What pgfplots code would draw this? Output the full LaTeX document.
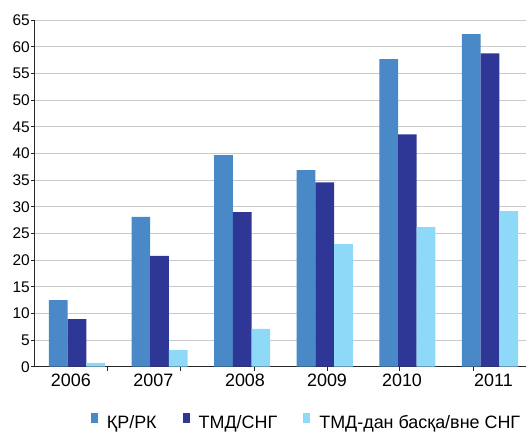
\documentclass[border=0pt]{standalone}
\usepackage{fontspec}
\setmainfont{Liberation Sans}
\usepackage{pgfplots}
\pgfplotsset{compat=1.18}

\definecolor{rk}{HTML}{4A89C8}
\definecolor{sng}{HTML}{2E3796}
\definecolor{vne}{HTML}{8ED8F8}
\definecolor{gridgray}{HTML}{CACACA}

\pgfplotstableread{
x   rk    sng   vne
0   12.5  8.95  0.7
1   28.1  20.8  3.1
2   39.7  29.0  7.1
3   36.9  34.6  23.0
4   57.7  43.6  26.2
5   62.4  58.8  29.2
}\data

\begin{document}
\begin{tikzpicture}
\begin{axis}[
  at={(0,0)}, anchor=south west,
  scale only axis,
  width=491bp, height=346.4bp,
  xmin=-0.508, xmax=5.436,
  ymin=0, ymax=65,
  ytick={0,5,...,65},
  xtick={0.375,1.259,2.147,3.034,3.910,4.797},
  xticklabels={},
  extra x ticks={-0.074,0.924,2.034,3.027,3.935,5.042},
  extra x tick labels={2006,2007,2008,2009,2010,2011},
  extra x tick style={major tick length=0pt, grid=none,
    xticklabel style={yshift=-6bp}},
  axis x line*=bottom,
  axis y line*=left,
  axis line style={black!85, line width=1bp},
  tick style={black!85, line width=1bp},
  tick align=outside,
  major tick length=4bp,
  ymajorgrids,
  grid style={gridgray, line width=1bp},
  /pgf/number format/assume math mode=true,
  yticklabel style={font=\fontsize{15.5}{17}\selectfont, inner sep=1bp},
  xticklabel style={font=\fontsize{18}{20}\selectfont, inner sep=1bp},
  ybar, bar width=0.2264,
  legend columns=-1,
  legend style={draw=none, fill=none, inner sep=0pt,
    at={(0.1134,-0.158)}, anchor=west,
    font=\fontsize{18}{20}\selectfont,
    nodes={inner sep=0pt},
    /tikz/every odd column/.append style={column sep=9bp},
    /tikz/every even column/.append style={column sep=26bp}},
  legend image code/.code={\fill[#1] (0bp,-1bp) rectangle (7bp,9bp);},
]
\addplot[draw=none, fill=rk, bar shift=-0.2264] table[x=x, y=rk] {\data};
\addplot[draw=none, fill=sng, bar shift=0] table[x=x, y=sng] {\data};
\addplot[draw=none, fill=vne, bar shift=0.2264] table[x=x, y=vne] {\data};
\legend{ҚР/РК, ТМД/СНГ, ТМД-дан басқа/вне СНГ}
\end{axis}
\pgfresetboundingbox
\path[use as bounding box] (-35bp,-66.3bp) rectangle (491bp,366.7bp);
\end{tikzpicture}
\end{document}
